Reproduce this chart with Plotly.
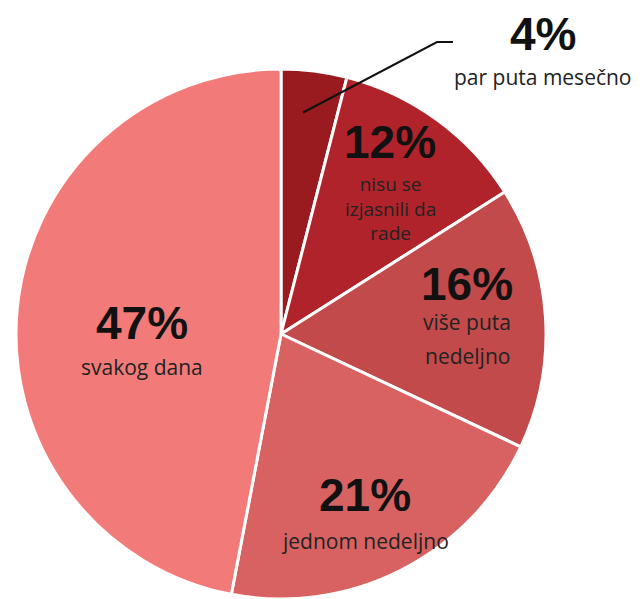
import math
import plotly.graph_objects as go

W, H = 643, 599
OFF = 8  # page body margin offset of the rendered figure

labels = ["par puta mesečno", "nisu se izjasnili da rade", "više puta nedeljno",
          "jednom nedeljno", "svakog dana"]
values = [4, 12, 16, 21, 47]
colors = ["#991b20", "#b0232a", "#c24a4b", "#d86262", "#f27b79"]

# pie geometry in screen pixels
cx, cy, R = 281, 334, 265


def px(x):
    return (x - OFF) / W


def py(y):
    return 1 - (y - OFF) / H


fig = go.Figure(go.Pie(
    labels=labels, values=values, sort=False, direction="clockwise", rotation=0,
    marker=dict(colors=colors, line=dict(color="white", width=3)),
    textinfo="none", hoverinfo="label+percent", showlegend=False,
    domain=dict(x=[px(cx - R), px(cx + R)], y=[py(cy + R), py(cy - R)]),
))

NUM_FONT = dict(family="Liberation Sans, Arial, sans-serif", size=46, color="#111")
LBL_FONT = dict(family="Open Sans, Noto Sans, sans-serif", size=21, color="#222")

# (percentage text position, [(label text, y, font size)])
label_layout = [
    ((543, 34), [("par puta mesečno", 77, 21)]),
    ((390, 142), [("nisu se<br>izjasnili da<br>rade", 208, 19)]),
    ((467, 284), [("više puta", 322, 21), ("nedeljno", 356, 21)]),
    ((365, 495), [("jednom nedeljno", 541, 21)]),
    ((142, 323), [("svakog dana", 367, 21)]),
]

annotations = []
for v, ((x, y), lines) in zip(values, label_layout):
    annotations.append(dict(x=px(x), y=py(y), xref="paper", yref="paper",
                            text=f"<b>{v}%</b>", showarrow=False, font=NUM_FONT,
                            xanchor="center", yanchor="middle"))
    for txt, ly, fs in lines:
        annotations.append(dict(x=px(x), y=py(ly), xref="paper", yref="paper",
                                text=txt, showarrow=False, font=dict(LBL_FONT, size=fs),
                                xanchor="center", yanchor="middle", align="center"))

# leader line for the small slice, starting inside the slice near its mid angle
mid_angle = math.radians(values[0] / sum(values) * 360 / 2 - 1.5)
sx = cx + 0.84 * R * math.sin(mid_angle)
sy = cy - 0.84 * R * math.cos(mid_angle)
path = f"M {px(sx)} {py(sy)} L {px(437)} {py(42)} L {px(453)} {py(42)}"

fig.update_layout(
    width=W, height=H, margin=dict(l=0, r=0, t=0, b=0),
    paper_bgcolor="white", plot_bgcolor="white",
    annotations=annotations,
    shapes=[dict(type="path", path=path, xref="paper", yref="paper",
                 line=dict(color="#111", width=2))],
)

fig.write_html("out.html")
